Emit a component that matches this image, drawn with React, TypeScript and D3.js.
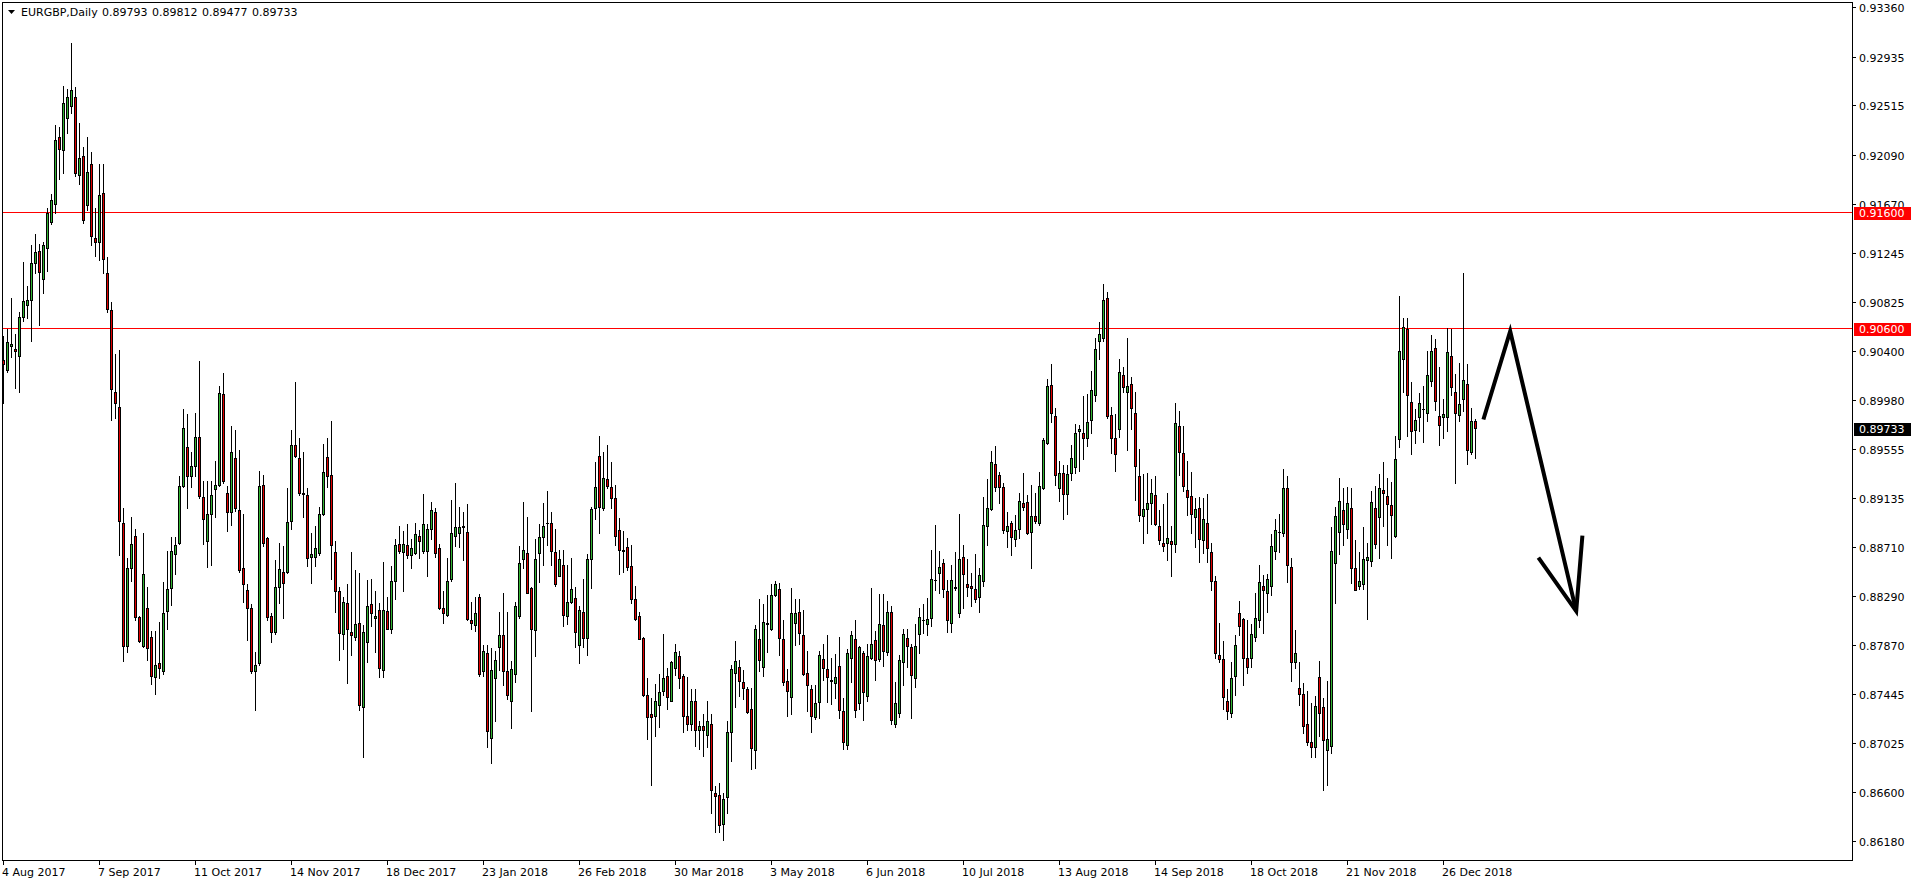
import React from "react";
import * as d3 from "d3";

// ---- DATA (EURGBP daily) ----
const opens = [
0.9032,0.9024,0.9044,0.9042,0.9036,0.9069,0.9080,0.9084,0.9116,0.9126,
0.9102,0.9129,0.9151,0.9167,0.9224,0.9213,0.9241,0.9251,0.9259,0.9192,
0.9208,0.9166,0.9201,0.9137,0.9134,0.9176,0.9107,0.9075,0.9005,0.8992,
0.8892,0.8786,0.8853,0.8881,0.8811,0.8786,0.8819,0.8794,0.8759,0.8771,
0.8764,0.8816,0.8836,0.8865,0.8875,0.8924,0.8957,0.8932,0.8941,0.8966,
0.8914,0.8876,0.8900,0.8921,0.8925,0.9003,0.8918,0.8901,0.8948,0.8903,
0.8853,0.8834,0.8819,0.8764,0.8771,0.8925,0.8879,0.8812,0.8798,0.8837,
0.8850,0.8850,0.8894,0.8959,0.8948,0.8918,0.8916,0.8863,0.8863,0.8866,
0.8900,0.8949,0.8933,0.8867,0.8833,0.8796,0.8823,0.8798,0.8794,0.8806,
0.8733,0.8789,0.8822,0.8810,0.8817,0.8765,0.8816,0.8801,0.8842,0.8874,
0.8867,0.8873,0.8864,0.8866,0.8881,0.8868,0.8868,0.8887,0.8901,0.8870,
0.8819,0.8813,0.8844,0.8881,0.8883,0.8888,0.8884,0.8808,0.8804,0.8828,
0.8764,0.8780,0.8707,0.8758,0.8785,0.8795,0.8764,0.8739,0.8762,0.8812,
0.8861,0.8866,0.8836,0.8800,0.8866,0.8880,0.8892,0.8892,0.8867,0.8846,
0.8856,0.8812,0.8824,0.8827,0.8787,0.8815,0.8793,0.8861,0.8905,0.8950,
0.8905,0.8930,0.8923,0.8913,0.8886,0.8869,0.8871,0.8855,0.8826,0.8812,
0.8793,0.8744,0.8727,0.8726,0.8735,0.8747,0.8760,0.8739,0.8767,0.8777,
0.8760,0.8726,0.8719,0.8739,0.8714,0.8717,0.8709,0.8719,0.8659,0.8658,
0.8633,0.8656,0.8712,0.8763,0.8768,0.8755,0.8749,0.8732,0.8696,0.8792,
0.8768,0.8805,0.8801,0.8830,0.8835,0.8792,0.8756,0.8742,0.8806,0.8815,
0.8795,0.8763,0.8749,0.8725,0.8738,0.8775,0.8766,0.8757,0.8754,0.8769,
0.8730,0.8701,0.8776,0.8792,0.8737,0.8780,0.8743,0.8776,0.8791,0.8775,
0.8804,0.8781,0.8815,0.8719,0.8728,0.8772,0.8793,0.8785,0.8758,0.8796,
0.8808,0.8805,0.8810,0.8843,0.8849,0.8857,0.8833,0.8806,0.8837,0.8814,
0.8863,0.8839,0.8838,0.8835,0.8828,0.8842,0.8889,0.8904,0.8943,0.8933,
0.8923,0.8885,0.8892,0.8878,0.8887,0.8909,0.8910,0.8884,0.8898,0.8892,
0.8922,0.8961,0.9011,0.8984,0.8922,0.8935,0.8917,0.8935,0.8940,0.8971,
0.8969,0.8965,0.8981,0.9002,0.9049,0.9051,0.9086,0.8985,0.8965,0.8973,
0.9019,0.9005,0.9012,0.8987,0.8932,0.8898,0.8904,0.8909,0.8916,0.8889,
0.8875,0.8875,0.8876,0.8874,0.8975,0.8952,0.8920,0.8915,0.8897,0.8905,
0.8877,0.8892,0.8867,0.8842,0.8778,0.8775,0.8739,0.8728,0.8760,0.8814,
0.8809,0.8776,0.8776,0.8794,0.8808,0.8838,0.8832,0.8838,0.8868,0.8884,
0.8883,0.8922,0.8854,0.8772,0.8750,0.8745,0.8719,0.8703,0.8699,0.8759,
0.8733,0.8696,0.8700,0.8857,0.8884,0.8903,0.8887,0.8905,0.8853,0.8838,
0.8839,0.8860,0.8859,0.8905,0.8897,0.8920,0.8915,0.8907,0.8881,0.8964,
0.9033,0.9059,0.8996,0.8972,0.8983,0.8990,0.8987,0.9014,0.9043,0.8984,
0.8983,0.8983,0.9036,0.9005,0.8985,0.8999,0.9012,0.8953,0.89793,
];
const highs = [
0.9053,0.9059,0.9086,0.9055,0.9074,0.9117,0.9096,0.9131,0.9141,0.9132,
0.9134,0.9163,0.9175,0.9235,0.9233,0.9268,0.9266,0.9305,0.9267,0.9236,
0.9216,0.9224,0.9211,0.9163,0.9201,0.9201,0.9121,0.9082,0.9037,0.9041,
0.8905,0.8862,0.8897,0.8887,0.8812,0.8883,0.8837,0.8799,0.8799,0.8807,
0.8841,0.8868,0.8880,0.8880,0.8932,0.8990,0.8986,0.8953,0.8987,0.9031,
0.8928,0.8928,0.8928,0.8945,0.9010,0.9021,0.8924,0.8975,0.8972,0.8955,
0.8900,0.8839,0.8822,0.8781,0.8937,0.8933,0.8880,0.8814,0.8860,0.8875,
0.8872,0.8922,0.8972,0.9013,0.8965,0.8953,0.8922,0.8883,0.8889,0.8906,
0.8960,0.8965,0.8980,0.8876,0.8837,0.8828,0.8839,0.8867,0.8851,0.8849,
0.8804,0.8843,0.8844,0.8833,0.8823,0.8858,0.8828,0.8855,0.8878,0.8889,
0.8885,0.8891,0.8878,0.8892,0.8886,0.8917,0.8891,0.8910,0.8905,0.8874,
0.8833,0.8862,0.8912,0.8926,0.8906,0.8901,0.8908,0.8824,0.8828,0.8831,
0.8787,0.8787,0.8784,0.8782,0.8815,0.8832,0.8815,0.8773,0.8824,0.8872,
0.8910,0.8897,0.8837,0.8878,0.8891,0.8909,0.8919,0.8901,0.8887,0.8869,
0.8869,0.8856,0.8862,0.8837,0.8820,0.8844,0.8865,0.8906,0.8944,0.8967,
0.8953,0.8959,0.8944,0.8925,0.8896,0.8885,0.8879,0.8873,0.8838,0.8815,
0.8794,0.8758,0.8741,0.8753,0.8762,0.8796,0.8767,0.8773,0.8788,0.8782,
0.8762,0.8759,0.8749,0.8749,0.8721,0.8727,0.8739,0.8727,0.8665,0.8668,
0.8659,0.8721,0.8770,0.8790,0.8774,0.8765,0.8751,0.8750,0.8804,0.8826,
0.8822,0.8830,0.8839,0.8842,0.8840,0.8808,0.8766,0.8836,0.8826,0.8826,
0.8817,0.8782,0.8752,0.8752,0.8782,0.8788,0.8795,0.8776,0.8779,0.8794,
0.8741,0.8783,0.8799,0.8808,0.8786,0.8782,0.8788,0.8836,0.8799,0.8831,
0.8831,0.8825,0.8820,0.8755,0.8778,0.8801,0.8801,0.8788,0.8805,0.8819,
0.8822,0.8827,0.8869,0.8890,0.8868,0.8861,0.8843,0.8856,0.8867,0.8900,
0.8873,0.8861,0.8849,0.8865,0.8853,0.8914,0.8930,0.8954,0.8958,0.8936,
0.8926,0.8901,0.8894,0.8899,0.8918,0.8935,0.8916,0.8925,0.8918,0.8936,
0.8965,0.9016,0.9029,0.8991,0.8945,0.8942,0.8942,0.8959,0.8977,0.8976,
0.9001,0.9003,0.9023,0.9051,0.9065,0.9098,0.9091,0.8992,0.8986,0.9033,
0.9026,0.9051,0.9018,0.9005,0.8956,0.8934,0.8935,0.8930,0.8932,0.8903,
0.8908,0.8918,0.8889,0.8995,0.8988,0.8975,0.8945,0.8936,0.8913,0.8914,
0.8913,0.8917,0.8875,0.8846,0.8806,0.8790,0.8749,0.8772,0.8795,0.8825,
0.8810,0.8808,0.8805,0.8832,0.8856,0.8847,0.8848,0.8882,0.8895,0.8900,
0.8938,0.8932,0.8862,0.8800,0.8772,0.8754,0.8747,0.8737,0.8743,0.8773,
0.8741,0.8756,0.8888,0.8906,0.8931,0.8922,0.8923,0.8922,0.8877,0.8867,
0.8888,0.8875,0.8919,0.8924,0.8934,0.8944,0.8931,0.8927,0.8967,0.9087,
0.9068,0.9068,0.9013,0.8990,0.9004,0.9010,0.9040,0.9054,0.9050,0.9026,
0.8999,0.9060,0.9059,0.9020,0.9030,0.9107,0.9029,0.8991,0.89812,
];
const lows = [
0.8995,0.9022,0.9035,0.9008,0.9005,0.9066,0.9068,0.9049,0.9107,0.9062,
0.9090,0.9109,0.9149,0.9159,0.9188,0.9193,0.9228,0.9245,0.9191,0.9184,
0.9150,0.9161,0.9131,0.9122,0.9118,0.9107,0.9074,0.8981,0.8982,0.8864,
0.8773,0.8781,0.8842,0.8808,0.8789,0.8785,0.8774,0.8753,0.8745,0.8758,
0.8762,0.8801,0.8821,0.8848,0.8874,0.8923,0.8905,0.8923,0.8932,0.8913,
0.8874,0.8854,0.8856,0.8897,0.8924,0.8926,0.8885,0.8890,0.8902,0.8850,
0.8824,0.8791,0.8763,0.8731,0.8770,0.8872,0.8808,0.8789,0.8796,0.8823,
0.8810,0.8849,0.8887,0.8949,0.8916,0.8897,0.8855,0.8840,0.8855,0.8864,
0.8899,0.8923,0.8844,0.8815,0.8774,0.8783,0.8754,0.8778,0.8791,0.8731,
0.8690,0.8772,0.8803,0.8781,0.8759,0.8759,0.8801,0.8797,0.8826,0.8866,
0.8833,0.8862,0.8853,0.8865,0.8862,0.8866,0.8846,0.8878,0.8863,0.8818,
0.8806,0.8812,0.8842,0.8872,0.8871,0.8860,0.8808,0.8801,0.8799,0.8760,
0.8760,0.8699,0.8685,0.8721,0.8765,0.8752,0.8740,0.8715,0.8755,0.8810,
0.8853,0.8832,0.8730,0.8777,0.8841,0.8856,0.8873,0.8856,0.8838,0.8846,
0.8803,0.8805,0.8823,0.8785,0.8771,0.8785,0.8778,0.8836,0.8895,0.8883,
0.8903,0.8922,0.8905,0.8873,0.8848,0.8850,0.8851,0.8823,0.8808,0.8792,
0.8743,0.8706,0.8666,0.8708,0.8716,0.8744,0.8732,0.8739,0.8761,0.8750,
0.8712,0.8714,0.8714,0.8700,0.8697,0.8691,0.8699,0.8642,0.8626,0.8626,
0.8619,0.8642,0.8687,0.8733,0.8743,0.8740,0.8728,0.8680,0.8681,0.8764,
0.8760,0.8781,0.8800,0.8829,0.8778,0.8752,0.8726,0.8727,0.8787,0.8788,
0.8761,0.8730,0.8712,0.8723,0.8724,0.8757,0.8738,0.8736,0.8741,0.8724,
0.8697,0.8697,0.8755,0.8725,0.8732,0.8722,0.8739,0.8775,0.8757,0.8773,
0.8769,0.8778,0.8719,0.8716,0.8725,0.8752,0.8768,0.8724,0.8751,0.8780,
0.8797,0.8795,0.8803,0.8834,0.8832,0.8828,0.8798,0.8798,0.8834,0.8811,
0.8819,0.8829,0.8820,0.8824,0.8815,0.8838,0.8873,0.8903,0.8919,0.8909,
0.8883,0.8871,0.8864,0.8872,0.8879,0.8903,0.8882,0.8853,0.8892,0.8890,
0.8921,0.8960,0.8979,0.8925,0.8911,0.8895,0.8900,0.8929,0.8935,0.8937,
0.8947,0.8958,0.8969,0.8997,0.9033,0.9049,0.8982,0.8952,0.8937,0.8966,
0.9005,0.8955,0.8973,0.8912,0.8894,0.8875,0.8883,0.8891,0.8890,0.8874,
0.8868,0.8860,0.8846,0.8867,0.8933,0.8919,0.8899,0.8883,0.8871,0.8858,
0.8866,0.8858,0.8834,0.8776,0.8772,0.8732,0.8723,0.8725,0.8744,0.8795,
0.8752,0.8763,0.8768,0.8790,0.8802,0.8797,0.8815,0.8830,0.8861,0.8867,
0.8881,0.8841,0.8756,0.8767,0.8735,0.8711,0.8701,0.8690,0.8690,0.8708,
0.8662,0.8666,0.8694,0.8823,0.8865,0.8873,0.8879,0.8840,0.8834,0.8835,
0.8835,0.8809,0.8855,0.8870,0.8862,0.8889,0.8873,0.8862,0.8880,0.8957,
0.9005,0.8967,0.8951,0.8961,0.8971,0.8962,0.8980,0.9010,0.8989,0.8959,
0.8965,0.8971,0.9002,0.8926,0.8980,0.8988,0.8943,0.8951,0.89477,
];
const closes = [
0.9029,0.9048,0.9046,0.9040,0.9069,0.9083,0.9084,0.9116,0.9125,0.9108,
0.9131,0.9159,0.9170,0.9222,0.9214,0.9254,0.9259,0.9265,0.9193,0.9206,
0.9153,0.9194,0.9139,0.9134,0.9174,0.9119,0.9076,0.9007,0.8995,0.8894,
0.8786,0.8853,0.8874,0.8811,0.8790,0.8848,0.8784,0.8760,0.8770,0.8767,
0.8814,0.8835,0.8868,0.8873,0.8924,0.8974,0.8932,0.8941,0.8966,0.8915,
0.8895,0.8900,0.8916,0.8925,0.9004,0.8928,0.8901,0.8953,0.8905,0.8851,
0.8839,0.8819,0.8764,0.8770,0.8924,0.8875,0.8811,0.8798,0.8837,0.8852,
0.8840,0.8893,0.8959,0.8950,0.8918,0.8917,0.8862,0.8865,0.8870,0.8900,
0.8936,0.8932,0.8873,0.8833,0.8797,0.8824,0.8801,0.8795,0.8805,0.8735,
0.8798,0.8820,0.8814,0.8812,0.8767,0.8817,0.8801,0.8842,0.8873,0.8868,
0.8874,0.8864,0.8870,0.8882,0.8876,0.8891,0.8887,0.8903,0.8866,0.8819,
0.8814,0.8842,0.8883,0.8888,0.8888,0.8889,0.8809,0.8806,0.8814,0.8762,
0.8782,0.8713,0.8765,0.8774,0.8795,0.8764,0.8744,0.8766,0.8820,0.8857,
0.8869,0.8832,0.8801,0.8861,0.8880,0.8889,0.8892,0.8868,0.8839,0.8861,
0.8813,0.8824,0.8835,0.8798,0.8817,0.8793,0.8861,0.8904,0.8923,0.8906,
0.8931,0.8924,0.8913,0.8881,0.8869,0.8868,0.8854,0.8826,0.8809,0.8792,
0.8744,0.8725,0.8725,0.8739,0.8746,0.8758,0.8742,0.8772,0.8781,0.8758,
0.8726,0.8719,0.8739,0.8714,0.8717,0.8714,0.8721,0.8662,0.8657,0.8632,
0.8654,0.8712,0.8766,0.8773,0.8756,0.8750,0.8729,0.8698,0.8801,0.8774,
0.8807,0.8806,0.8830,0.8839,0.8793,0.8755,0.8747,0.8814,0.8814,0.8797,
0.8762,0.8752,0.8726,0.8737,0.8778,0.8767,0.8759,0.8756,0.8759,0.8731,
0.8703,0.8780,0.8795,0.8731,0.8785,0.8746,0.8777,0.8788,0.8774,0.8805,
0.8782,0.8815,0.8722,0.8737,0.8774,0.8796,0.8786,0.8761,0.8786,0.8811,
0.8808,0.8809,0.8844,0.8843,0.8854,0.8835,0.8808,0.8843,0.8836,0.8861,
0.8848,0.8837,0.8836,0.8826,0.8847,0.8890,0.8905,0.8944,0.8923,0.8923,
0.8886,0.8889,0.8880,0.8886,0.8911,0.8906,0.8883,0.8898,0.8894,0.8924,
0.8963,0.9010,0.8987,0.8933,0.8935,0.8917,0.8934,0.8948,0.8969,0.8973,
0.8965,0.8979,0.9006,0.9042,0.9055,0.9084,0.8984,0.8965,0.8951,0.9022,
0.9009,0.9010,0.8991,0.8941,0.8899,0.8904,0.8909,0.8918,0.8891,0.8877,
0.8872,0.8879,0.8874,0.8978,0.8953,0.8924,0.8914,0.8900,0.8904,0.8878,
0.8895,0.8870,0.8842,0.8780,0.8775,0.8742,0.8730,0.8758,0.8787,0.8803,
0.8776,0.8768,0.8796,0.8810,0.8841,0.8834,0.8844,0.8872,0.8886,0.8884,
0.8922,0.8856,0.8772,0.8780,0.8745,0.8717,0.8703,0.8699,0.8734,0.8728,
0.8705,0.8706,0.8868,0.8898,0.8911,0.8891,0.8909,0.8853,0.8834,0.8842,
0.8861,0.8863,0.8910,0.8874,0.8922,0.8918,0.8908,0.8899,0.8947,0.9040,
0.9061,0.9002,0.8971,0.8981,0.8995,0.8990,0.9019,0.9040,0.8997,0.8976,
0.8986,0.9039,0.9009,0.8987,0.8994,0.9015,0.8955,0.8980,0.89733,
];

const dateLabels = [
  "4 Aug 2017", "7 Sep 2017", "11 Oct 2017", "14 Nov 2017", "18 Dec 2017",
  "23 Jan 2018", "26 Feb 2018", "30 Mar 2018", "3 May 2018", "6 Jun 2018",
  "10 Jul 2018", "13 Aug 2018", "14 Sep 2018", "18 Oct 2018", "21 Nov 2018",
  "26 Dec 2018",
];
const dateLabelBars = [0, 24, 48, 72, 96, 120, 144, 168, 192, 216, 240, 264, 288, 312, 336, 360];

const priceTicks = [
  0.9336, 0.92935, 0.92515, 0.9209, 0.9167, 0.91245, 0.90825, 0.904, 0.8998,
  0.89555, 0.89135, 0.8871, 0.8829, 0.8787, 0.87445, 0.87025, 0.866, 0.8618,
];
const levelLines = [0.916, 0.906];
const symbolTitle = "EURGBP,Daily";
const lastPrice = 0.89733;

// hand-drawn arrow annotation, in (bar index, price)
const arrowBars = [370.1, 376.8, 393.3];
const arrowPrices = [0.8981, 0.9057, 0.8816];
const arrowHeadBars = [383.85, 393.3, 394.85];
const arrowHeadPrices = [0.8862, 0.8816, 0.8881];

const W = 1916;
const H = 884;
const FONT = "'DejaVu Sans', Verdana, sans-serif";
const BULL = "#32b432";
const BEAR = "#e00000";

export default function App() {
  const left = 2;
  const right = 1852;
  const top = 2;
  const bottom = 860;

  const x = d3.scaleLinear().domain([-0.5, 462]).range([1, 1851]);
  const y = d3.scaleLinear().domain([0.8618, 0.9336]).range([841, 7.3]);

  const fmt = d3.format(".5f");

  const candles = closes.map((c, i) => {
    const o = opens[i];
    const h = highs[i];
    const l = lows[i];
    const cx = Math.round(x(i));
    const yT = Math.round(y(Math.max(o, c)));
    const yB = Math.round(y(Math.min(o, c)));
    const yH = Math.round(y(h));
    const yL = Math.round(y(l));
    const bull = c >= o;
    return (
      <g key={i}>
        <rect x={cx} y={yH} width={1} height={Math.max(1, yL - yH + 1)} fill="#000" />
        <rect x={cx - 1} y={yT} width={3} height={Math.max(1, yB - yT + 1)} fill="#000" />
        {yB - yT - 1 > 0 && (
          <rect x={cx} y={yT + 1} width={1} height={yB - yT - 1} fill={bull ? BULL : BEAR} />
        )}
      </g>
    );
  });

  const line = d3.line<[number, number]>().x((d) => x(d[0])).y((d) => y(d[1]));
  const arrowMain = line(arrowBars.map((b, i) => [b, arrowPrices[i]] as [number, number]));
  const arrowHead = line(arrowHeadBars.map((b, i) => [b, arrowHeadPrices[i]] as [number, number]));

  const header = [fmt(opens[opens.length - 1]), fmt(highs[highs.length - 1]), fmt(lows[lows.length - 1]), fmt(closes[closes.length - 1])];

  return (
    <div style={{ position: "fixed", left: 0, top: 0, width: W, height: H, background: "#fff" }}>
      <svg width={W} height={H} style={{ display: "block" }} fontFamily={FONT} fontSize={11} shapeRendering="crispEdges">
        <rect x={0} y={0} width={W} height={H} fill="#fff" />

        {/* price tick labels */}
        {priceTicks.map((p) => {
          const ty = Math.round(y(p));
          return (
            <g key={p}>
              <rect x={right} y={ty} width={4} height={1} fill="#000" />
              <text x={1859} y={ty + 4.5} fill="#000">{fmt(p)}</text>
            </g>
          );
        })}

        {/* level lines */}
        {levelLines.map((p) => {
          const ly = Math.round(y(p));
          return <rect key={p} x={left} y={ly} width={right - left} height={1} fill="#ff0000" />;
        })}

        {/* candles */}
        {candles}

        {/* frame */}
        <rect x={left} y={top} width={1} height={bottom - top + 1} fill="#000" />
        <rect x={left} y={top} width={right - left + 1} height={1} fill="#000" />
        <rect x={right} y={top} width={1} height={bottom - top + 1} fill="#000" />
        <rect x={left} y={bottom} width={right - left + 1} height={1} fill="#000" />

        {/* level labels */}
        {levelLines.map((p) => {
          const ly = Math.round(y(p));
          return (
            <g key={"lab" + p}>
              <rect x={1854} y={ly - 5} width={57} height={13} fill="#ff0000" />
              <text x={1859} y={ly + 5} fill="#fff">{fmt(p)}</text>
            </g>
          );
        })}
        {(() => {
          const ly = Math.round(y(lastPrice));
          return (
            <g>
              <rect x={1854} y={ly - 5} width={57} height={13} fill="#000" />
              <text x={1859} y={ly + 5} fill="#fff">{fmt(lastPrice)}</text>
            </g>
          );
        })()}

        {/* date axis */}
        {dateLabelBars.map((b, i) => {
          const tx = Math.round(x(b));
          return (
            <g key={b}>
              <rect x={tx} y={bottom + 1} width={1} height={4} fill="#000" />
              <text x={tx - 1} y={876} fill="#000">{dateLabels[i]}</text>
            </g>
          );
        })}

        {/* header */}
        <path d="M8,10 L15,10 L11.5,14 Z" fill="#000" shapeRendering="auto" />
        <text x={21} y={16} fill="#000">{symbolTitle}</text>
        {header.map((t, i) => (
          <text key={i} x={102 + i * 50} y={16} fill="#000">{t}</text>
        ))}

        {/* arrow annotation */}
        <g shapeRendering="auto" fill="none" stroke="#000" strokeWidth={4} strokeLinejoin="miter" strokeLinecap="butt">
          <path d={arrowMain || ""} />
          <path d={arrowHead || ""} />
        </g>
      </svg>
    </div>
  );
}
